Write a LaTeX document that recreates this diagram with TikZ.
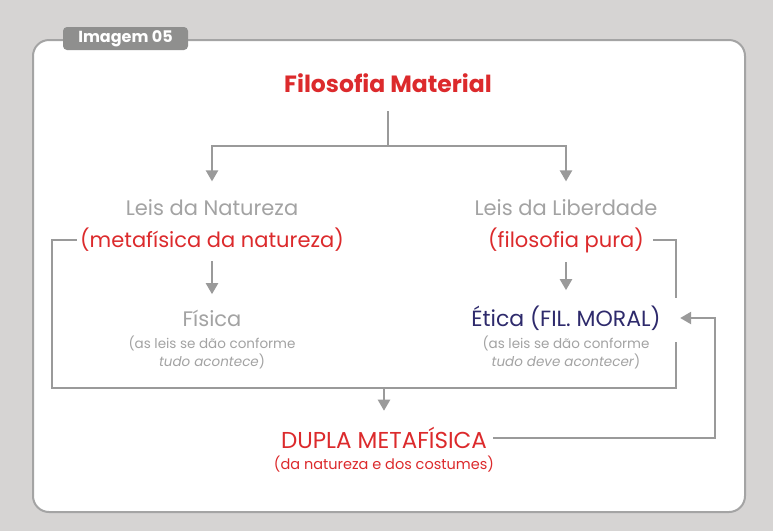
\documentclass[tikz,border=0pt]{standalone}
\usepackage{fontspec}
\setmainfont{Poppins}
\usetikzlibrary{arrows.meta,positioning}

\definecolor{bggray}{HTML}{D6D4D3}
\definecolor{linegray}{HTML}{9A9A9A}
\definecolor{tabgray}{HTML}{8F8F8E}
\definecolor{txtgray}{HTML}{A3A3A3}
\definecolor{redtxt}{HTML}{DC2A2C}
\definecolor{navytxt}{HTML}{2E2A6C}

\tikzset{
  line/.style={draw=linegray, line width=2.3pt},
  arr/.style={line, -{Triangle[width=12pt,length=11pt]}},
  headtxt/.style={text=redtxt, font=\bfseries\fontsize{23.5}{26}\selectfont},
  graytxt/.style={text=txtgray, font=\fontsize{21}{24}\selectfont},
  redtxtst/.style={text=redtxt, font=\fontsize{21}{24}\selectfont},
  notetxt/.style={text=txtgray, align=center, font=\fontsize{13.5}{18}\selectfont},
  tabbox/.style={fill=tabgray, text=white, rounded corners=4pt, minimum width=125pt,
    minimum height=23pt, inner sep=0pt, font=\bfseries\fontsize{16}{17}\selectfont}
}

\begin{document}
\begin{tikzpicture}[x=1pt,y=-1pt]
\useasboundingbox (0,0) rectangle (773,531);
\fill[bggray] (0,0) rectangle (773,531);
\draw[line, draw=linegray!90, line width=2pt, fill=white, rounded corners=16pt] (33,40) rectangle (745,512);
\node[tabbox] (tab) at (125.5,38.5) {Imagem 05};

% top
\node[headtxt] (fm) at (388,83) {Filosofia Material};
\coordinate (split) at (388,146);

% left column
\node[graytxt] (ln) at (212,208) {Leis da Natureza};
\node[redtxtst] (mn) at (212,240) {(metafísica da natureza)};
\node[graytxt] (fis) at (212,318) {Física};
\node[notetxt] (fisnote) at (212,352) {(as leis se dão conforme\\\textit{tudo acontece})};

% right column
\node[graytxt] (ll) at (566,208) {Leis da Liberdade};
\node[redtxtst] (fp) at (566,240) {(filosofia pura)};
\node[text=navytxt, font=\fontsize{22}{24}\selectfont] (et) at (566,318) {Ética (FIL. MORAL)};
\node[notetxt] (etnote) at (566,352) {(as leis se dão conforme\\\textit{tudo deve acontecer})};

% bottom
\node[redtxtst, font=\fontsize{23}{24}\selectfont] (dm) at (384,438) {DUPLA METAFÍSICA};
\node[notetxt, text=redtxt, font=\fontsize{14.5}{18}\selectfont] (dmnote) at (384,464) {(da natureza e dos costumes)};

\coordinate (bl) at (52,388);
\coordinate (br) at (676,388);
\coordinate (brtop) at (676,342);
\coordinate (frtop) at (676,298);
\coordinate (fbk) at (715,438);

% connectors
\draw[line] ([yshift=-15pt]fm.south) -- (split);
\draw[arr, shorten >=15pt] (split) -| (ln.north);
\draw[arr, shorten >=15pt] (split) -| (ll.north);
\draw[arr, shorten <=6pt, shorten >=12pt] (mn) -- (fis);
\draw[arr, shorten <=6pt, shorten >=12pt] (fp) -- (et);
\draw[line] (mn.west) -- (mn.west -| bl) -- (bl) -- (br) -- (brtop);
\draw[line] ([xshift=6pt]fp.east) -- (fp.east -| frtop) -- (frtop);
\draw[arr, shorten >=13pt] (bl -| dm) -- (dm.north);
\draw[arr, shorten >=16pt] ([xshift=3pt]dm.east) -- (dm.east -| fbk) -- (fbk |- et) -- (et.east);
\end{tikzpicture}
\end{document}
